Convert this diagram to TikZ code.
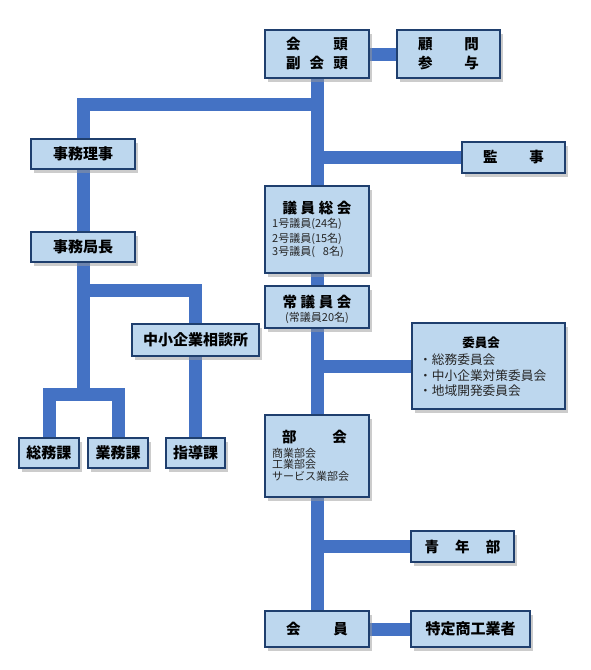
\documentclass[tikz,border=0pt]{standalone}
\usepackage{fontspec}
\setmainfont{Noto Sans CJK JP}
\usetikzlibrary{shadows}
\definecolor{boxfill}{HTML}{BDD7EE}
\definecolor{boxline}{HTML}{1F3F6E}
\definecolor{conncol}{HTML}{4472C4}
\definecolor{subtext}{HTML}{262626}
\pgfdeclarelayer{background}
\pgfsetlayers{background,main}
\begin{document}
\begin{tikzpicture}[x=1pt,y=-1pt,
  box/.style={draw=boxline, line width=1.1pt, fill=boxfill,
    drop shadow={shadow xshift=3pt,shadow yshift=-3.5pt,fill=black!40},
    inner sep=0pt, align=center, font=\fontsize{14.5}{19}\selectfont\bfseries},
  ttl/.style={inner sep=0pt, align=center, font=\fontsize{14.5}{19}\selectfont\bfseries},
  subl/.style={inner sep=0pt, anchor=west, text=subtext, font=\fontsize{11}{13}\selectfont},
  conn/.style={draw=conncol, line width=13pt}]
\useasboundingbox (0,0) rectangle (590,670);

% boxes
\node[box, minimum width=104pt, minimum height=48pt] (kaito) at (317,54)
  {\makebox[62pt]{会\hfill 頭}\\\makebox[62pt]{副\hfill 会\hfill 頭}};
\node[box, minimum width=103pt, minimum height=48pt] (komon) at (448.5,54)
  {\makebox[61pt]{顧\hfill 問}\\\makebox[61pt]{参\hfill 与}};
\node[box, minimum width=104pt, minimum height=30pt, font=\fontsize{15}{19}\selectfont\bfseries] (jimuriji) at (83,154) {事務理事};
\node[box, minimum width=103pt, minimum height=31pt] (kanji) at (513.5,157.5) {\makebox[61pt]{監\hfill 事}};
\node[box, minimum width=104pt, minimum height=30pt, font=\fontsize{15}{19}\selectfont\bfseries] (jimukyoku) at (83,247) {事務局長};
\node[box, minimum width=104pt, minimum height=87pt] (gisoukai) at (317,229.5) {};
\node[box, minimum width=104pt, minimum height=42pt] (jogiin) at (317,307) {};
\node[box, minimum width=153pt, minimum height=86pt] (iinkai) at (488.5,366) {};
\node[box, minimum width=127pt, minimum height=32pt, font=\fontsize{15}{19}\selectfont\bfseries] (chusho) at (195.5,340) {中小企業相談所};
\node[box, minimum width=60pt, minimum height=30pt, font=\fontsize{15}{19}\selectfont\bfseries] (somu) at (49,453) {総務課};
\node[box, minimum width=60pt, minimum height=30pt, font=\fontsize{15}{19}\selectfont\bfseries] (gyomu) at (118,453) {業務課};
\node[box, minimum width=59pt, minimum height=30pt, font=\fontsize{15}{19}\selectfont\bfseries] (shido) at (195.5,453) {指導課};
\node[box, minimum width=104pt, minimum height=82pt] (bukai) at (317,456) {};
\node[box, minimum width=103pt, minimum height=31pt] (seinen) at (462.5,546.5) {\makebox[76pt]{青\hfill 年\hfill 部}};
\node[box, minimum width=104pt, minimum height=36pt] (kaiin) at (317,629) {\makebox[62pt]{会\hfill 員}};
\node[box, minimum width=119pt, minimum height=36pt, font=\fontsize{15}{18}\selectfont\bfseries] (tokutei) at (470.5,629) {特定商工業者};

% texts inside compound boxes
\node[ttl] (gisoukai-t) at (317,208) {\makebox[69pt]{議\hfill 員\hfill 総\hfill 会}};
\node[subl] (gisoukai-1) at (272,224) {1号議員(24名)};
\node[subl] (gisoukai-2) at (272,238.5) {2号議員(15名)};
\node[subl] (gisoukai-3) at (272,252) {3号議員(\phantom{1}\,8名)};

\node[ttl] (jogiin-t) at (317,302) {\makebox[69pt]{常\hfill 議\hfill 員\hfill 会}};
\node[inner sep=0pt, text=subtext, font=\fontsize{11}{13}\selectfont] (jogiin-s) at (317,318) {(常議員20名)};

\node[ttl, font=\fontsize{12.5}{15}\selectfont\bfseries] (iinkai-t) at (481,343) {委員会};
\node[subl, font=\fontsize{12.7}{15}\selectfont] (iinkai-1) at (419,360) {・総務委員会};
\node[subl, font=\fontsize{12.7}{15}\selectfont] (iinkai-2) at (419,375.5) {・中小企業対策委員会};
\node[subl, font=\fontsize{12.7}{15}\selectfont] (iinkai-3) at (419,391) {・地域開発委員会};

\node[ttl] (bukai-t) at (314.5,437) {\makebox[65pt]{部\hfill 会}};
\node[subl] (bukai-1) at (272,453) {商業部会};
\node[subl] (bukai-2) at (272,464.5) {工業部会};
\node[subl] (bukai-3) at (272,476) {サービス業部会};

% connectors
\coordinate (t1) at (317,104);
\coordinate (k1) at (83,290);
\coordinate (k2) at (83,394);
\begin{pgfonlayer}{background}
\draw[conn] (kaito.east) -- (komon.west);
\draw[conn] (kaito.south) -- (kaiin.north);
\draw[conn] (jimuriji.north) |- (t1);
\draw[conn] (jimuriji.south) -- (jimukyoku.north);
\draw[conn] (jimukyoku.south) -- (k2);
\draw[conn] (k1) -| (chusho.north);
\draw[conn] (somu.north) |- (k2) -| (gyomu.north);
\draw[conn] (chusho.south) -- (shido.north);
\draw[conn] (kanji.west) -- (kanji.west -| kaito.south);
\draw[conn] (iinkai.west) -- (iinkai.west -| kaito.south);
\draw[conn] (seinen.west) -- (seinen.west -| kaito.south);
\draw[conn] (kaiin.east) -- (tokutei.west);
\end{pgfonlayer}
\end{tikzpicture}
\end{document}
